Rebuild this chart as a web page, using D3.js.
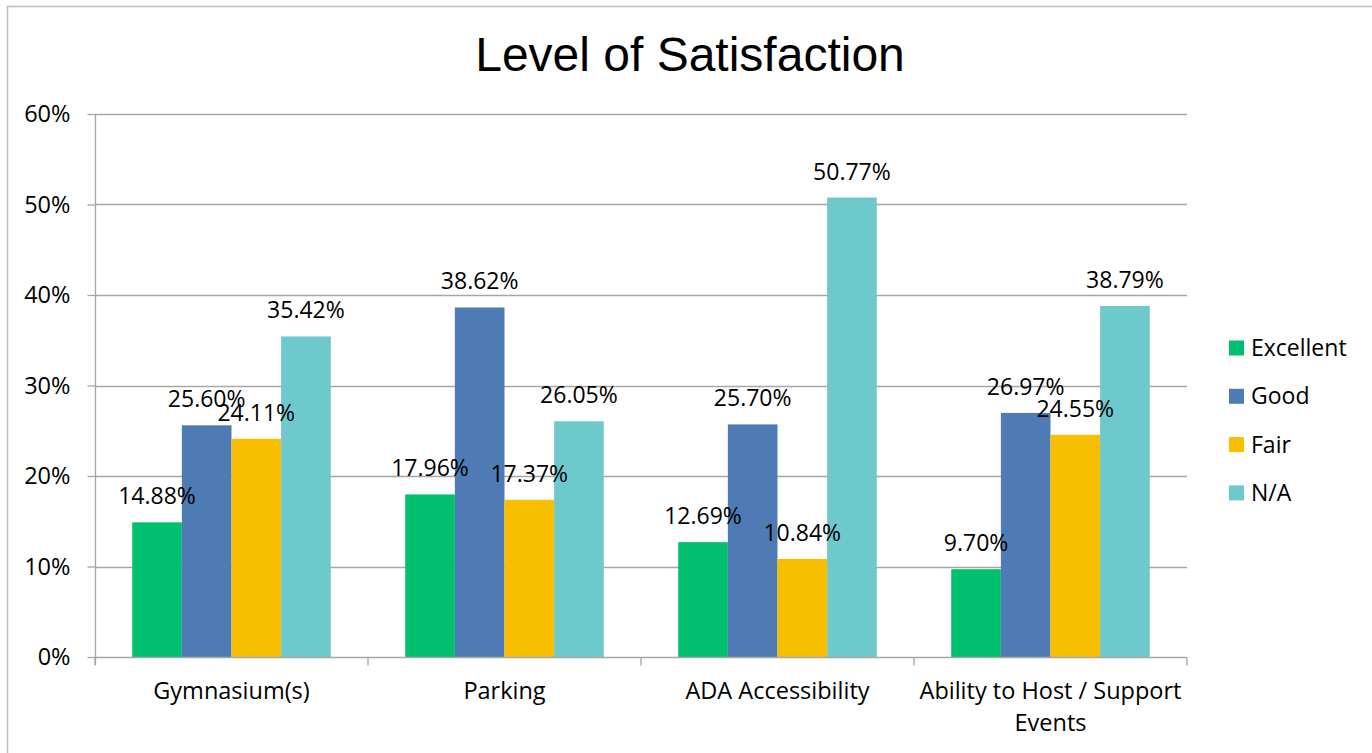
<!DOCTYPE html>
<html>
<head>
<meta charset="utf-8">
<script src="https://cdn.jsdelivr.net/npm/d3@7"></script>
<style>
  html, body { margin: 0; padding: 0; background: #fff; }
  svg { display: block; }
  text { font-family: "Open Sans", sans-serif; fill: #000; }
</style>
</head>
<body>
<svg id="chart" width="1372" height="753"></svg>
<script>
// Survey results: share of respondents per rating, by facility aspect
const categories = ["Gymnasium(s)", "Parking", "ADA Accessibility", "Ability to Host / Support Events"];
const series = ["Excellent", "Good", "Fair", "N/A"];
const excellent = [14.88, 17.96, 12.69, 9.70];
const good      = [25.60, 38.62, 25.70, 26.97];
const fair      = [24.11, 17.37, 10.84, 24.55];
const na        = [35.42, 26.05, 50.77, 38.79];
const yTicks = [0, 10, 20, 30, 40, 50, 60];
const colors = ["#00bf6f", "#4f7bb4", "#f8bf00", "#6dc9cc"];

const values = [excellent, good, fair, na];

const svg = d3.select("#chart");
const W = 1372, H = 753;
const m = { left: 95, right: 1187, top: 114, bottom: 657 };

// chart frame
svg.append("path")
  .attr("d", `M7.5,${H} V6.5 H${W}`)
  .attr("fill", "none")
  .attr("stroke", "#bdbdbd")
  .attr("stroke-width", 1.5);

// title
svg.append("text")
  .attr("x", 690).attr("y", 71)
  .attr("text-anchor", "middle")
  .style("font-family", "'Liberation Sans', Arial, sans-serif")
  .style("font-size", "48px")
  .text("Level of Satisfaction");

const y = d3.scaleLinear().domain([0, 60]).range([m.bottom, m.top]);
const x0 = d3.scaleBand().domain(categories).range([m.left, m.right]).padding(0);
const x1 = d3.scaleBand().domain(series).range([0, x0.bandwidth()])
  .paddingInner(0).paddingOuter(0.75);
const color = d3.scaleOrdinal().domain(series).range(colors);

// gridlines
svg.append("g")
  .selectAll("line")
  .data(yTicks.filter(d => d > 0))
  .join("line")
  .attr("x1", m.left).attr("x2", m.right)
  .attr("y1", d => Math.round(y(d)) + 0.5).attr("y2", d => Math.round(y(d)) + 0.5)
  .attr("stroke", "#a6a6a6").attr("stroke-width", 1.3);

// y axis
const yAxis = svg.append("g")
  .attr("transform", `translate(${m.left + 0.5},0)`)
  .call(d3.axisLeft(y).tickValues(yTicks).tickFormat(d => d + "%").tickSizeInner(8).tickSizeOuter(0).tickPadding(17));
yAxis.select(".domain").attr("stroke", "#a6a6a6").attr("stroke-width", 1.3)
  .attr("d", `M0,${m.top}V${m.bottom + 8}`);
yAxis.selectAll(".tick line").attr("stroke", "#a6a6a6").attr("stroke-width", 1.3);
yAxis.selectAll(".tick text").style("font-size", "23.5px").style("font-family", "'Open Sans', sans-serif").attr("fill", "#000");

// bars
const groups = svg.append("g")
  .selectAll("g")
  .data(categories)
  .join("g")
  .attr("transform", d => `translate(${x0(d)},0)`);

groups.selectAll("rect")
  .data((c, i) => series.map((s, j) => ({ s, v: values[j][i] })))
  .join("rect")
  .attr("x", d => x1(d.s))
  .attr("width", x1.bandwidth())
  .attr("y", d => y(d.v))
  .attr("height", d => y(0) - y(d.v))
  .attr("fill", d => color(d.s));

// x axis
const xAxis = svg.append("g")
  .attr("transform", `translate(0,${m.bottom + 0.5})`);
xAxis.append("line")
  .attr("x1", m.left).attr("x2", m.right)
  .attr("stroke", "#a6a6a6").attr("stroke-width", 1.3);
xAxis.selectAll("line.tick")
  .data(d3.range(categories.length + 1))
  .join("line")
  .attr("class", "tick")
  .attr("x1", i => i < categories.length ? x0(categories[i]) : m.right)
  .attr("x2", i => i < categories.length ? x0(categories[i]) : m.right)
  .attr("y1", 0).attr("y2", 8)
  .attr("stroke", "#a6a6a6").attr("stroke-width", 1.3);

// category labels (wrapped like the source)
const catLines = {
  "Gymnasium(s)": ["Gymnasium(s)"],
  "Parking": ["Parking"],
  "ADA Accessibility": ["ADA Accessibility"],
  "Ability to Host / Support Events": ["Ability to Host / Support", "Events"]
};
categories.forEach(c => {
  const t = svg.append("text")
    .attr("x", x0(c) + x0.bandwidth() / 2)
    .attr("y", 699)
    .attr("text-anchor", "middle")
    .style("font-size", "23.5px");
  catLines[c].forEach((ln, k) => {
    t.append("tspan").attr("x", x0(c) + x0.bandwidth() / 2).attr("dy", k === 0 ? 0 : 32).text(ln);
  });
});

// value labels
groups.selectAll("text.val")
  .data((c, i) => series.map((s, j) => ({ s, v: values[j][i] })))
  .join("text")
  .attr("class", "val")
  .attr("x", d => x1(d.s) + x1.bandwidth() / 2)
  .attr("y", d => y(d.v) - 18)
  .attr("text-anchor", "middle")
  .style("font-size", "23px")
  .text(d => d.v.toFixed(2) + "%");

// legend
const legend = svg.append("g").attr("transform", "translate(1229,348)");
const li = legend.selectAll("g")
  .data(series)
  .join("g")
  .attr("transform", (d, i) => `translate(0,${i * 48.3})`);
li.append("rect")
  .attr("x", 0).attr("y", -7.5).attr("width", 15).attr("height", 15)
  .attr("fill", d => color(d));
li.append("text")
  .attr("x", 22).attr("y", 8)
  .style("font-size", "23px")
  .text(d => d);
</script>
</body>
</html>
